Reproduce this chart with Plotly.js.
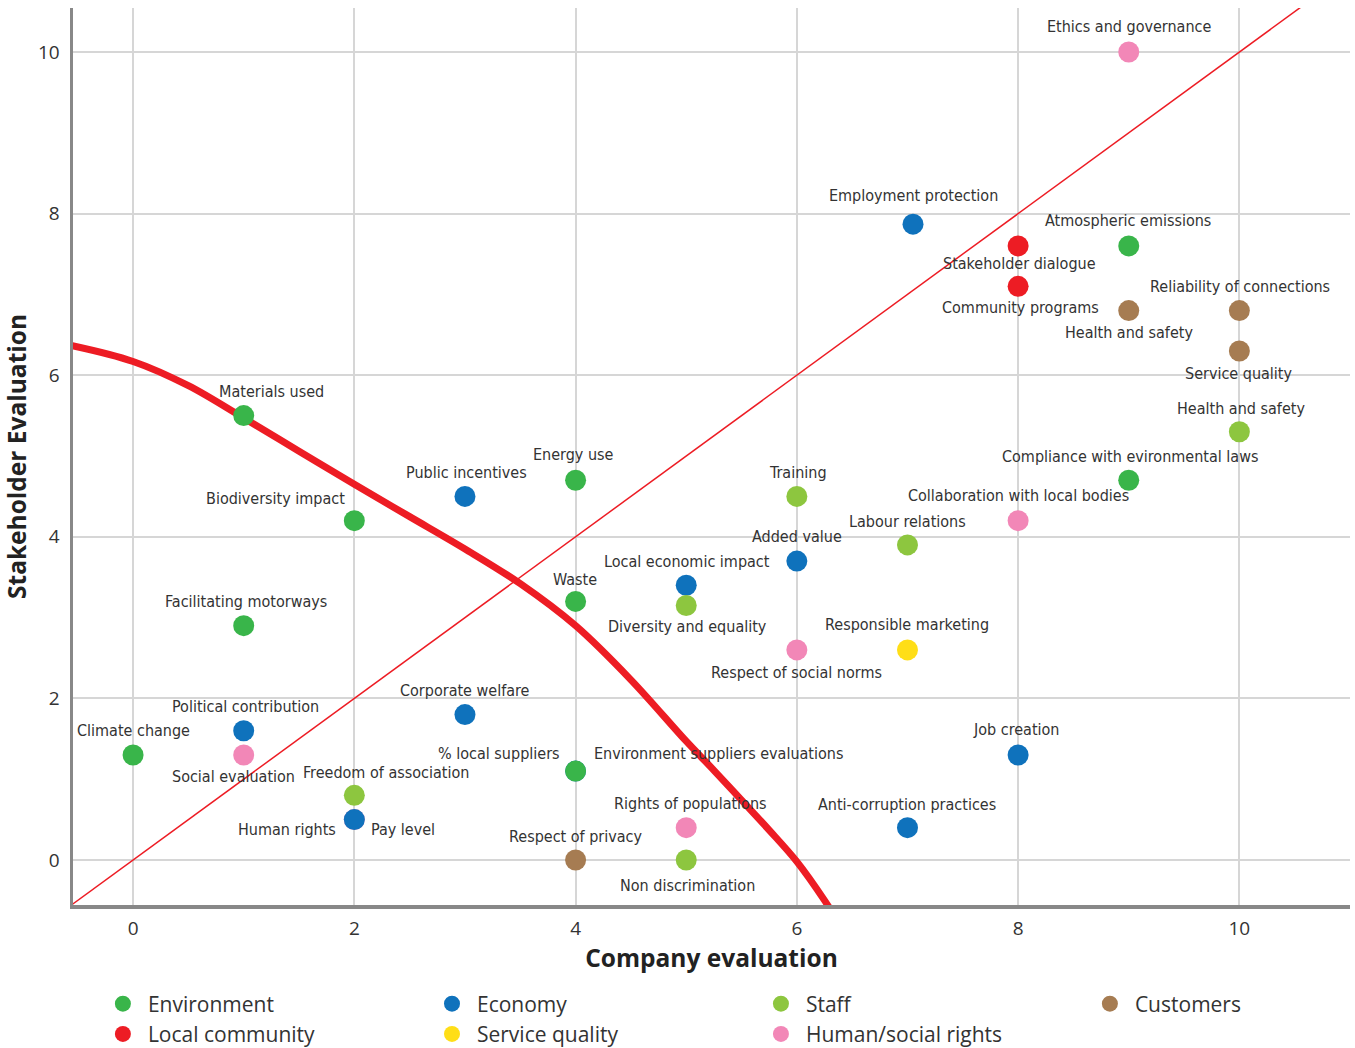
<!DOCTYPE html>
<html>
<head>
<meta charset="utf-8">
<script src="https://cdn.plot.ly/plotly-3.0.1.min.js"></script>
<style>html,body{margin:0;padding:0;background:#fff;}#chart{width:1355px;height:1048px;}</style>
</head>
<body>
<div id="chart"></div>
<script>
// ---------- DATA ----------
// Environment
const envLabels = ["Materials used","Biodiversity impact","Facilitating motorways","Climate change","Energy use","Waste","Environment suppliers evaluations","Atmospheric emissions","Compliance with evironmental laws"];
const envX = [1, 2, 1, 0, 4, 4, 4, 9, 9];
const envY = [5.5, 4.2, 2.9, 1.3, 4.7, 3.2, 1.1, 7.6, 4.7];
// Economy
const ecoLabels = ["Employment protection","Public incentives","Local economic impact","Added value","Corporate welfare","Political contribution","Pay level","% local suppliers","Job creation","Anti-corruption practices"];
const ecoX = [7.05, 3, 5, 6, 3, 1, 2, 4, 8, 7];
const ecoY = [7.87, 4.5, 3.4, 3.7, 1.8, 1.6, 0.5, 1.1, 1.3, 0.4];
// Staff
const staffLabels = ["Training","Labour relations","Diversity and equality","Freedom of association","Non discrimination","Health and safety"];
const staffX = [6, 7, 5, 2, 5, 10];
const staffY = [4.5, 3.9, 3.15, 0.8, 0, 5.3];
// Customers
const custLabels = ["Reliability of connections","Health and safety","Service quality","Respect of privacy"];
const custX = [10, 9, 10, 4];
const custY = [6.8, 6.8, 6.3, 0];
// Local community
const locLabels = ["Stakeholder dialogue","Community programs"];
const locX = [8, 8];
const locY = [7.6, 7.1];
// Service quality
const sqLabels = ["Responsible marketing"];
const sqX = [7];
const sqY = [2.6];
// Human/social rights
const hsrLabels = ["Ethics and governance","Collaboration with local bodies","Respect of social norms","Social evaluation","Rights of populations","Human rights"];
const hsrX = [9, 8, 6, 1, 5, 2];
const hsrY = [10, 4.2, 2.6, 1.3, 0.4, 0.5];
// Reference lines
const diagX = [-0.6, 11.1];
const diagY = [-0.6, 11.1];
const curveX = [-0.6, 0, 0.5, 1, 1.5, 2, 2.5, 3, 3.5, 4, 4.5, 5, 5.25, 5.5, 5.75, 6, 6.25, 6.5];
const curveY = [6.38, 6.17, 5.87, 5.47, 5.06, 4.65, 4.25, 3.85, 3.42, 2.9, 2.23, 1.47, 1.11, 0.74, 0.37, -0.02, -0.5, -1.05];
// Axis ticks
const xTicks = [0, 2, 4, 6, 8, 10];
const yTicks = [0, 2, 4, 6, 8, 10];

// ---------- LABEL PLACEMENT (pixel offsets: dx, dy(down positive), anchor) ----------
const envPlace = [[28,-24,"center"],[-7,-22,"right"],[2,-24,"center"],[0,-24,"center"],[-2,-26,"center"],[-1,-22,"center"],[16,-18,"left"],[-1,-25,"center"],[1,-24,"center"]];
const ecoPlace = [[0,-29,"center"],[2,-24,"center"],[1,-24,"center"],[0,-25,"center"],[0,-24,"center"],[2,-24,"center"],[15,10,"left"],[-14,-18,"right"],[-2,-25,"center"],[0,-23,"center"]];
const staffPlace = [[1,-24,"center"],[0,-23,"center"],[1,21,"center"],[32,-23,"center"],[1,25,"center"],[2,-23,"center"]];
const custPlace = [[1,-24,"center"],[0,22,"center"],[0,23,"center"],[0,-24,"center"]];
const locPlace = [[1,18,"center"],[2,21,"center"]];
const sqPlace = [[0,-25,"center"]];
const hsrPlace = [[0,-26,"center"],[0,-25,"center"],[0,23,"center"],[-10,22,"center"],[4,-24,"center"],[-16,10,"right"]];

const groups = [
  {name:"Human/social rights", color:"#f287b7", x:hsrX, y:hsrY, labels:hsrLabels, place:hsrPlace, legend:"legend3", rank:2},
  {name:"Economy", color:"#0f72bc", x:ecoX, y:ecoY, labels:ecoLabels, place:ecoPlace, legend:"legend2", rank:1},
  {name:"Environment", color:"#39b54a", x:envX, y:envY, labels:envLabels, place:envPlace, legend:"legend", rank:1},
  {name:"Staff", color:"#8dc63f", x:staffX, y:staffY, labels:staffLabels, place:staffPlace, legend:"legend3", rank:1},
  {name:"Customers", color:"#a67c52", x:custX, y:custY, labels:custLabels, place:custPlace, legend:"legend4", rank:1},
  {name:"Local community", color:"#ed1c24", x:locX, y:locY, labels:locLabels, place:locPlace, legend:"legend", rank:2},
  {name:"Service quality", color:"#ffde17", x:sqX, y:sqY, labels:sqLabels, place:sqPlace, legend:"legend2", rank:2}
];

const traces = [
  {type:"scatter", mode:"lines", x:diagX, y:diagY, line:{color:"#ed1c24", width:1.5}, showlegend:false, hoverinfo:"skip"},
  {type:"scatter", mode:"lines", x:curveX, y:curveY, line:{color:"#ed1c24", width:7, shape:"spline", smoothing:1}, showlegend:false, hoverinfo:"skip"}
];
const annotations = [];
const labelFont = {family:"DejaVu Sans Condensed, Liberation Sans Narrow, sans-serif", size:16, color:"#333333"};

groups.forEach(g => {
  traces.push({
    type:"scatter", mode:"markers", name:g.name, x:g.x, y:g.y, text:g.labels,
    marker:{color:g.color, size:21, line:{width:0}},
    legend:g.legend, legendrank:g.rank, cliponaxis:false
  });
  g.labels.forEach((lab, i) => {
    const p = g.place[i];
    annotations.push({
      x:g.x[i], y:g.y[i], xref:"x", yref:"y", text:lab, showarrow:false,
      xanchor:p[2], yanchor:"middle", xshift:p[0], yshift:-p[1], font:labelFont
    });
  });
});

const legendFont = {family:"Open Sans, sans-serif", size:21, color:"#333333"};
function mkLegend(x){
  return {x:x, y:-0.0875, xanchor:"left", yanchor:"top", orientation:"v", font:legendFont,
          bgcolor:"rgba(0,0,0,0)", borderwidth:0, itemwidth:40, tracegroupgap:0};
}

const tickFont = {family:"Open Sans, sans-serif", size:19, color:"#333333"};
const titleFont = {family:"Open Sans, sans-serif", size:24.5, color:"#222222", weight:"bold"};

const layout = {
  width:1355, height:1048,
  margin:{l:73, r:5, t:8, b:143, autoexpand:false},
  paper_bgcolor:"#ffffff", plot_bgcolor:"#ffffff",
  showlegend:true,
  xaxis:{
    range:[-0.543, 11.0], tickvals:xTicks, ticktext:xTicks.map(String),
    showgrid:true, gridcolor:"#d6d6d6", gridwidth:2, zeroline:false,
    showline:true, linecolor:"#888888", linewidth:3.5, mirror:false,
    ticks:"", tickfont:tickFont, ticklabelstandoff:4,
    title:{text:"Company evaluation", font:titleFont, standoff:10}
  },
  yaxis:{
    range:[-0.557, 10.545], tickvals:yTicks, ticktext:yTicks.map(String),
    showgrid:true, gridcolor:"#d6d6d6", gridwidth:2, zeroline:false,
    showline:true, linecolor:"#888888", linewidth:3.5, mirror:false,
    ticks:"", tickfont:tickFont, ticklabelstandoff:6,
    title:{text:"Stakeholder Evaluation", font:titleFont, standoff:8}
  },
  legend: mkLegend(0.0195),
  legend2: mkLegend(0.2772),
  legend3: mkLegend(0.5348),
  legend4: mkLegend(0.7924),
  annotations: annotations
};

Plotly.newPlot("chart", traces, layout, {displayModeBar:false, staticPlot:true});
</script>
</body>
</html>
